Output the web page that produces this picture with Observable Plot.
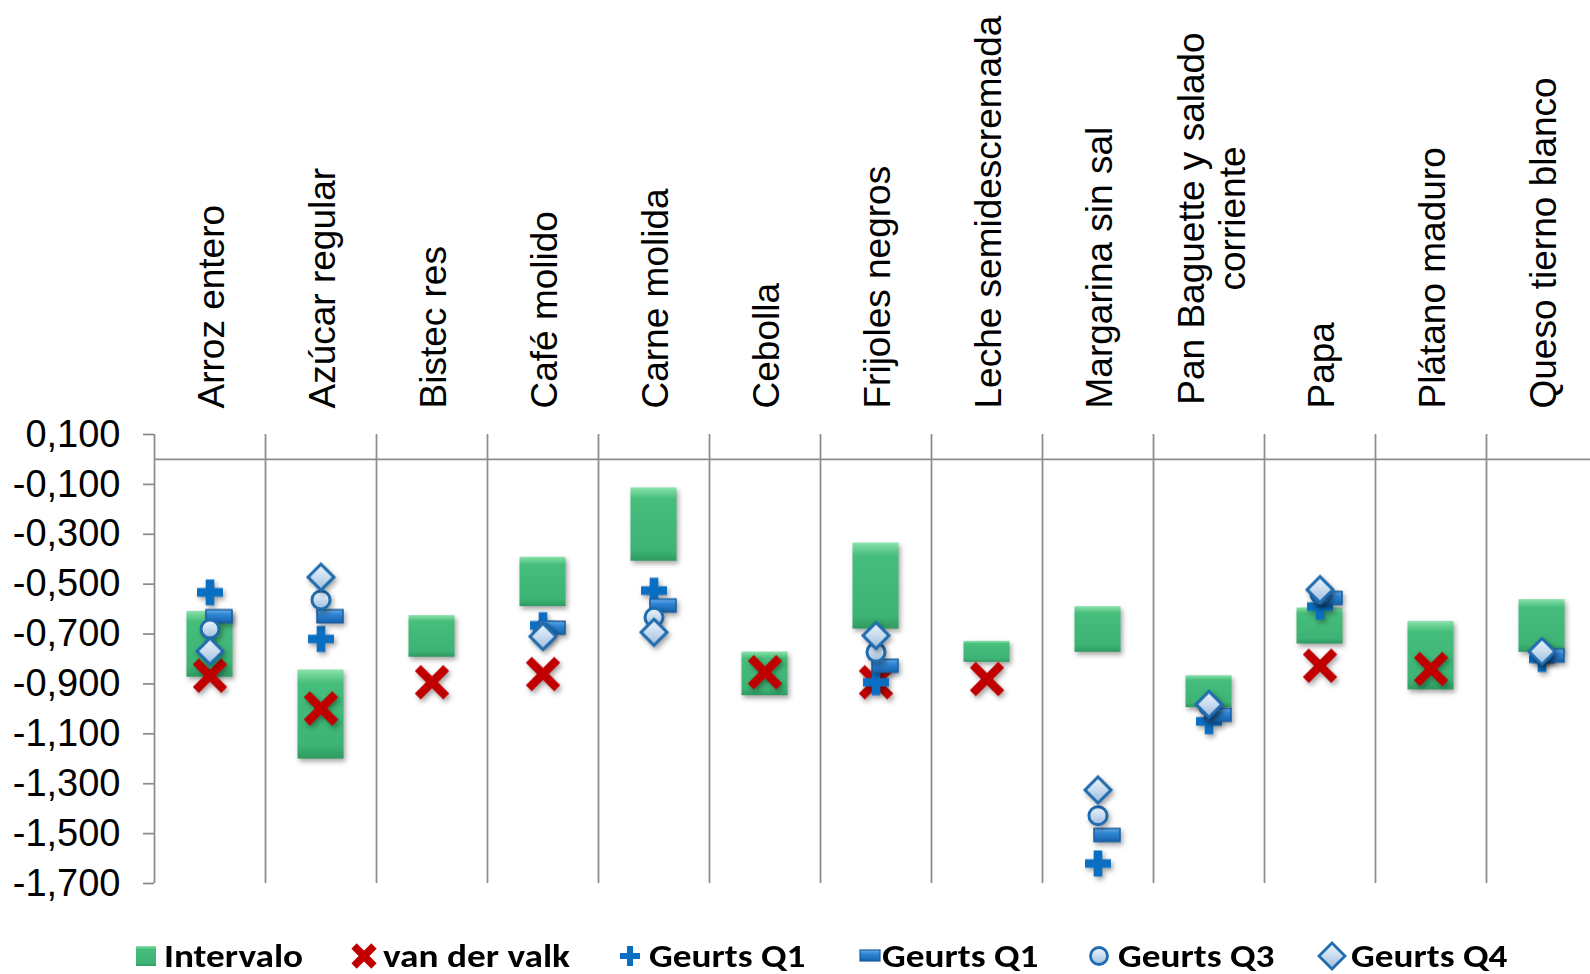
<!DOCTYPE html>
<html>
<head>
<meta charset="utf-8">
<script src="https://cdn.jsdelivr.net/npm/d3@7"></script>
<script src="https://cdn.jsdelivr.net/npm/@observablehq/plot@0.6"></script>
<style>
  html, body { margin: 0; padding: 0; background: #fff; }
  #wrap { width: 1590px; }
  #legend { position: relative; width: 1590px; height: 59px; font-family: Carlito, Lato, "Liberation Sans Narrow", sans-serif; font-weight: 700; font-size: 33px; color: #000; }
  #legend .sym { position: absolute; }
  #legend .lab { position: absolute; top: 21px; line-height: 40px; white-space: nowrap; transform: scaleX(1.13); transform-origin: 0 50%; }
</style>
</head>
<body>
<div id="wrap">
  <div id="chart"></div>
  <div id="legend"></div>
</div>
<script>
// ---- Data ----
const categories = [
  "Arroz entero", "Azúcar regular", "Bistec res", "Café molido", "Carne molida",
  "Cebolla", "Frijoles negros", "Leche semidescremada", "Margarina sin sal",
  "Pan Baguette y salado corriente", "Papa", "Plátano maduro", "Queso tierno blanco"
];
const intervaloLow  = [-0.873, -1.201, -0.793, -0.590, -0.408, -0.947, -0.680, -0.813, -0.773, -0.995, -0.740, -0.924, -0.773];
const intervaloHigh = [-0.609, -0.844, -0.626, -0.392, -0.114, -0.772, -0.335, -0.729, -0.590, -0.867, -0.595, -0.649, -0.562];
const vanDerValk    = [-0.867, -0.998, -0.893, -0.860, null, -0.853, -0.893, -0.880, null, null, -0.827, -0.840, null];
const geurtsQ1Plus  = [-0.533, -0.720, null, -0.665, -0.526, null, -0.893, null, -1.620, -1.050, -0.590, null, -0.800];
const geurtsQ1Dash  = [-0.629, -0.629, null, -0.675, -0.586, null, -0.827, null, -1.506, -1.023, -0.555, null, -0.786];
const geurtsQ3      = [-0.680, -0.563, null, -0.695, -0.633, null, -0.773, null, -1.428, -0.990, -0.540, null, -0.775];
const geurtsQ4      = [-0.769, -0.472, null, -0.710, -0.693, null, -0.706, null, -1.325, -0.982, -0.522, null, -0.770];
const yTicks = [0.1, -0.1, -0.3, -0.5, -0.7, -0.9, -1.1, -1.3, -1.5, -1.7];
const legendLabels = ["Intervalo", "van der valk", "Geurts Q1", "Geurts Q1", "Geurts Q3", "Geurts Q4"];

// ---- Build table ----
const rows = categories.map((c, i) => ({
  c, lo: intervaloLow[i], hi: intervaloHigh[i], vdv: vanDerValk[i],
  q1p: geurtsQ1Plus[i], q1d: geurtsQ1Dash[i], q3: geurtsQ3[i], q4: geurtsQ4[i]
}));
const has = k => rows.filter(d => d[k] != null);

const x0 = 154, x1 = 1597;
const bw = (x1 - x0) / categories.length;
const grid = "#8c8c8c";
const shadow = "drop-shadow(2px 3px 2.5px rgba(0,0,0,0.35))";
const fmt = d => d3.format(".3f")(d).replace("\u2212", "-").replace(".", ",");
const dashSymbol = { draw(ctx) { ctx.rect(-13, -6.5, 26, 13); } };

const singleLabels = categories.filter(c => c !== "Pan Baguette y salado corriente");
const twoLine = ["Pan Baguette y salado corriente"];

const svg = Plot.plot({
  width: 1590,
  height: 915,
  marginLeft: x0,
  marginRight: 0,
  marginTop: 420,
  marginBottom: 30,
  style: { fontFamily: "'Liberation Sans', Arial, sans-serif", background: "#fff", color: "#000", overflow: "visible" },
  x: { type: "band", domain: categories, range: [x0, x1], padding: 0, axis: null },
  y: { domain: [-1.7, 0.1], range: [883, 434], axis: null },
  marks: [
    Plot.ruleY([0], { stroke: grid, strokeWidth: 1.75 }),
    Plot.ruleX(categories, { x: d => d, y1: 0.1, y2: -1.7, dx: -bw / 2, stroke: grid, strokeWidth: 1.75 }),
    Plot.axisY({ ticks: yTicks, tickFormat: fmt, tickSize: 11, tickPadding: 23, fontSize: 38, stroke: grid, strokeWidth: 1.75, label: null }),
    Plot.text(singleLabels, { x: d => d, text: d => d, frameAnchor: "top", rotate: -90, textAnchor: "start", dx: -12, dy: -12, fontSize: 37 }),
    Plot.text(twoLine, { x: d => d, text: () => "Pan Baguette y salado\ncorriente", frameAnchor: "top", rotate: -90, textAnchor: "middle", dx: -35, dy: -202, fontSize: 37, lineHeight: 1.13 }),
    Plot.barY(rows, { x: "c", y1: "lo", y2: "hi", fill: "url(#gGreen)", insetLeft: 32.5, insetRight: 32.5, imageFilter: shadow }),
    Plot.dot(has("vdv"), { x: "c", y: "vdv", symbol: "times", r: 13, stroke: "#c00000", strokeWidth: 8.5, imageFilter: shadow }),
    Plot.dot(has("q1p"), { x: "c", y: "q1p", symbol: "cross", r: 10.9, fill: "#0a6fc2", stroke: "none", imageFilter: shadow }),
    Plot.dot(has("q1d"), { x: "c", y: "q1d", symbol: dashSymbol, r: 8, dx: 9, fill: "url(#gBlue)", stroke: "#1b5c9e", strokeWidth: 1.5, imageFilter: shadow }),
    Plot.dot(has("q3"), { x: "c", y: "q3", symbol: "circle", r: 9, fill: "url(#gLight)", stroke: "#1f6cb0", strokeWidth: 3, imageFilter: shadow }),
    Plot.dot(has("q4"), { x: "c", y: "q4", symbol: "diamond2", r: 11.7, fill: "url(#gLight)", stroke: "#1f6cb0", strokeWidth: 3, imageFilter: shadow })
  ]
});

// gradient definitions
const defs = d3.select(svg).insert("defs", ":first-child");
function lin(id, stops) {
  const g = defs.append("linearGradient").attr("id", id).attr("x1", 0).attr("y1", 0).attr("x2", 0).attr("y2", 1);
  stops.forEach(([o, c]) => g.append("stop").attr("offset", o).attr("stop-color", c));
}
lin("gGreen", [[0, "#8ee2b0"], [0.06, "#6fd396"], [0.16, "#45bd7b"], [0.85, "#3db475"], [1, "#2f9a60"]]);
lin("gBlue", [[0, "#6aaee8"], [0.35, "#2f86d6"], [1, "#1763ad"]]);
lin("gLight", [[0, "#eef4fb"], [0.5, "#c9dcef"], [1, "#9dbcdc"]]);
document.getElementById("chart").appendChild(svg);

// ---- Legend (HTML, below the SVG) ----
const legend = d3.select("#legend");
const items = [
  { sx: 135, tx: 164, w: 22, h: 22, draw: s => s.append("rect").attr("x", 1).attr("y", 1).attr("width", 20).attr("height", 20).attr("fill", "url(#gGreen)") },
  { sx: 350, tx: 383, w: 28, h: 28, draw: s => s.append("path").attr("d", "M4,4L24,24M4,24L24,4").attr("stroke", "#c00000").attr("stroke-width", 7.5) },
  { sx: 619, tx: 649, w: 22, h: 22, draw: s => s.append("path").attr("d", "M8,1h6v7h7v6h-7v7h-6v-7h-7v-6h7z").attr("fill", "#0a6fc2") },
  { sx: 859, tx: 882, w: 22, h: 14, draw: s => s.append("rect").attr("x", 1).attr("y", 1).attr("width", 20).attr("height", 11).attr("fill", "url(#gBlue)").attr("stroke", "#1b5c9e").attr("stroke-width", 1.2) },
  { sx: 1088, tx: 1118, w: 22, h: 22, draw: s => s.append("circle").attr("cx", 11).attr("cy", 11).attr("r", 8.5).attr("fill", "url(#gLight)").attr("stroke", "#1f6cb0").attr("stroke-width", 2.8) },
  { sx: 1317, tx: 1351, w: 30, h: 30, draw: s => s.append("path").attr("d", "M15,2L28,15L15,28L2,15Z").attr("fill", "url(#gLight)").attr("stroke", "#1f6cb0").attr("stroke-width", 2.8) }
];
items.forEach((it, i) => {
  const s = legend.append("svg").attr("class", "sym").attr("width", it.w).attr("height", it.h)
    .style("left", it.sx + "px").style("top", (41 - it.h / 2) + "px");
  it.draw(s);
  legend.append("div").attr("class", "lab").style("left", it.tx + "px").text(legendLabels[i]);
});
</script>
</body>
</html>
